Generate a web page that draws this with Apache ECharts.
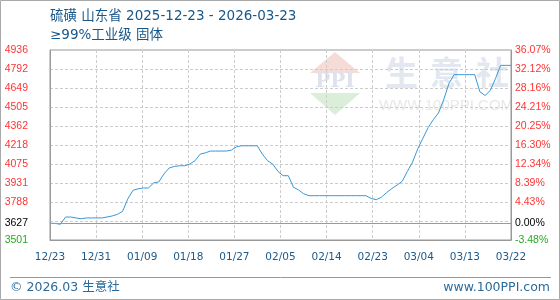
<!DOCTYPE html>
<html>
<head>
<meta charset="utf-8">
<script src="https://cdn.jsdelivr.net/npm/echarts@6/dist/echarts.min.js"></script>
<style>html,body{margin:0;padding:0;background:#fff}#c{width:560px;height:300px}</style>
</head>
<body>
<div id="c"></div>
<script>
// ---- data ----
// daily prices from 2025-12-23 (day 0) to 2026-03-22 (day 89)
var prices = [
  3627, 3627, 3620, 3675, 3675, 3668, 3662, 3668, 3668, 3668,
  3668, 3675, 3683, 3695, 3717, 3810, 3876, 3888, 3894, 3894,
  3932, 3940, 4000, 4045, 4057, 4062, 4062, 4075, 4100, 4150,
  4160, 4173, 4173, 4173, 4173, 4180, 4205, 4213, 4213, 4213,
  4213, 4150, 4100, 4075, 4020, 3987, 3987, 3900, 3879,
  3850, 3836, 3836, 3836, 3836, 3836, 3836, 3836, 3836, 3836,
  3836, 3836, 3836, 3815, 3806, 3825, 3860, 3890, 3916, 3945,
  4020, 4090, 4190, 4270, 4350, 4410, 4460, 4560, 4680, 4750,
  4750, 4750, 4750, 4750, 4620, 4593, 4630, 4720, 4820, 4820,
  4820
];
var xTickLabels = ['12/23','12/31','01/09','01/18','01/27','02/05','02/14','02/23','03/04','03/13','03/22'];
var basePrice = 3627;
var yMin = 3501.5;
var yMax = 4936;
var leftLabels = ['4936','4792','4649','4505','4362','4218','4075','3931','3788','3627','3501'];
var rightLabels = ['36.07%','32.12%','28.16%','24.21%','20.25%','16.30%','12.34%','8.39%','4.43%','0.00%','-3.48%'];
var titleLine1 = '硫磺 山东省 2025-12-23 - 2026-03-23';
var titleLine2 = '≥99%工业级 固体';
var footerLeft = '© 2026.03 生意社';
var footerRight = 'www.100PPI.com';

// ---- derived ----
var xMax = prices.length - 1;
var seriesData = prices.map(function(v, i){ return [i, v]; });
var xStep = xMax / (xTickLabels.length - 1);
var xTicks = xTickLabels.map(function(_, k){ return k * xStep; });

var gridVals = [];
for (var i = 0; i <= 10; i++) gridVals.push(yMin + (yMax - yMin) * i / 10);
var labelVals = leftLabels.map(Number);
labelVals[0] = yMax; labelVals[10] = yMin;

function nearest(arr, v){
  var best = 0, bd = Infinity;
  for (var i = 0; i < arr.length; i++) { var dd = Math.abs(arr[i]-v); if (dd < bd) { bd = dd; best = i; } }
  return best;
}
function cls(i){ return i === 9 ? 'k' : (i === 10 ? 'g' : 'r'); }
var rich = {
  r: {color:'#ff3333', fontSize:10.5, fontFamily:'Liberation Sans'},
  k: {color:'#000000', fontSize:10.5, fontFamily:'Liberation Sans'},
  g: {color:'#22aa22', fontSize:10.5, fontFamily:'Liberation Sans'}
};

var chart = echarts.init(document.getElementById('c'), null, {renderer:'canvas'});
var blue = '#17578a';
chart.setOption({
  animation: false,
  backgroundColor: '#fff',
  grid: {left:50, right:49, top:50, bottom:60, show:true, borderColor:'#999', borderWidth:1, backgroundColor:'transparent'},
  xAxis: {
    type:'value', min:0, max:xMax,
    axisLine:{onZero:false, lineStyle:{color:'#999', width:1}},
    axisTick:{show:false, customValues: xTicks},
    axisLabel:{customValues: xTicks, color:'#1a5a8c', fontSize:10.5, fontFamily:'DejaVu Sans', margin:12,
      formatter:function(v){ return xTickLabels[nearest(xTicks, v)]; }},
    splitLine:{show:true, lineStyle:{color:'#cccccc', type:[3,2], width:1}}
  },
  yAxis: [{
    type:'value', min:yMin, max:yMax, position:'left',
    axisLine:{show:true, lineStyle:{color:'#999'}},
    axisTick:{show:false, customValues: gridVals},
    axisLabel:{customValues: labelVals, margin:22,
      formatter:function(v){ var i = nearest(labelVals, v); return '{'+cls(i)+'|'+leftLabels[i]+'}'; }, rich: rich},
    splitLine:{show:true, lineStyle:{color:'#cccccc', type:[3,2], width:1}}
  },{
    type:'value', min:yMin, max:yMax, position:'right',
    axisLine:{show:true, lineStyle:{color:'#999'}},
    axisTick:{show:false, customValues: gridVals},
    axisLabel:{customValues: labelVals, margin:4, align:'left',
      formatter:function(v){ var i = nearest(labelVals, v); return '{'+cls(i)+'|'+rightLabels[i]+'}'; }, rich: rich},
    splitLine:{show:false}
  }],
  graphic: [
    {type:'rect', z:-10, shape:{x:0.5,y:0.5,width:559,height:299}, style:{fill:'none', stroke:'#aaaaaa', lineWidth:1}},
    {type:'polygon', z:-5, shape:{points:[[335,52],[360,73],[310,73]]}, style:{fill:'#f6dcd6'}},
    {type:'text', z:-5, x:335, y:82, style:{text:'PPI', font:'bold 20px "DejaVu Serif"', fill:'#dde2ec', align:'center', verticalAlign:'middle'}},
    {type:'polygon', z:-5, shape:{points:[[310,93],[360,93],[335,115]]}, style:{fill:'#daeeda'}},
    {type:'text', z:-5, x:385, y:72, style:{text:'生', font:'bold 33px "Noto Sans CJK SC"', fill:'#e3e7f0', verticalAlign:'middle'}},
    {type:'text', z:-5, x:430, y:72, style:{text:'意', font:'bold 33px "Noto Sans CJK SC"', fill:'#e3e7f0', verticalAlign:'middle'}},
    {type:'text', z:-5, x:476, y:72, style:{text:'社', font:'bold 33px "Noto Sans CJK SC"', fill:'#e3e7f0', verticalAlign:'middle'}},
    {type:'text', z:-5, x:446, y:106, style:{text:'WWW.100PPI.COM', font:'15px "Liberation Sans"', fill:'#e8e8e8', align:'center', verticalAlign:'middle'}},
    {type:'text', x:50, y:16, style:{text:titleLine1, font:'13.5px "DejaVu Sans", "Noto Sans CJK SC"', fill:blue, verticalAlign:'middle'}},
    {type:'text', x:50, y:35, style:{text:titleLine2, font:'13.5px "DejaVu Sans", "Noto Sans CJK SC"', fill:blue, verticalAlign:'middle'}},
    {type:'line', shape:{x1:10,y1:277.5,x2:551,y2:277.5}, style:{stroke:'#999', lineWidth:1}},
    {type:'text', x:10, y:288, style:{text:footerLeft, font:'12.5px "DejaVu Sans", "Noto Sans CJK SC"', fill:'#2a6b9c', verticalAlign:'middle'}},
    {type:'text', x:550, y:288, style:{text:footerRight, font:'12.5px "DejaVu Sans"', fill:'#2a6b9c', align:'right', verticalAlign:'middle'}}
  ],
  series: [{
    type:'line', data: seriesData, showSymbol:false, symbol:'none',
    lineStyle:{color:'#3a98d8', width:1}, itemStyle:{color:'#3a98d8'},
    markLine:{silent:true, symbol:'none', label:{show:false}, animation:false,
      lineStyle:{color:'#999', type:'solid', width:1},
      data:[{yAxis: basePrice}]}
  }]
});
</script>
</body>
</html>
